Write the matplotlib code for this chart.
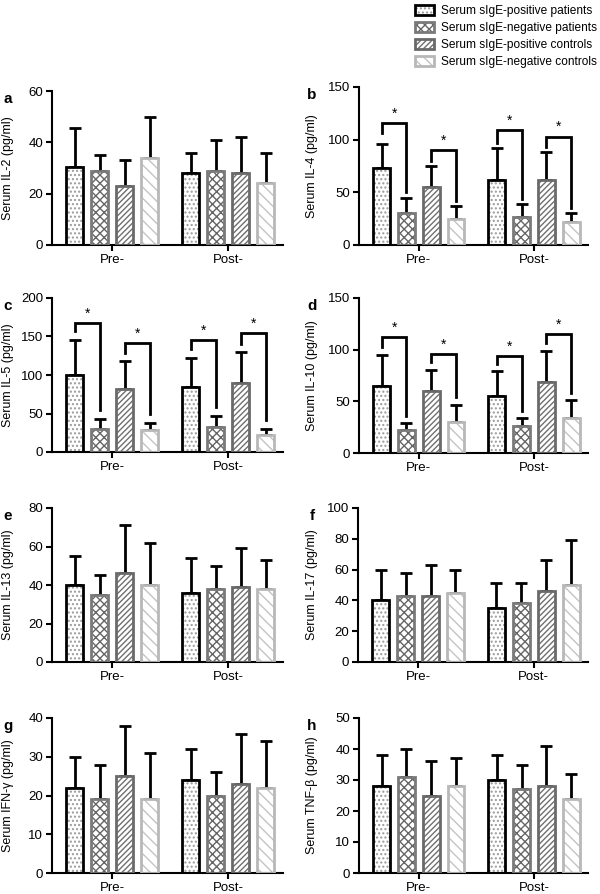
import numpy as np
import matplotlib
matplotlib.use("Agg")
import matplotlib.pyplot as plt
from matplotlib.patches import Patch

plt.rcParams["font.family"] = ["Liberation Sans", "DejaVu Sans"]
plt.rcParams["hatch.linewidth"] = 1.0

GROUPS = ["Pre-", "Post-"]
SERIES = [
    "Serum sIgE-positive patients",
    "Serum sIgE-negative patients",
    "Serum sIgE-positive controls",
    "Serum sIgE-negative controls",
]

# means / upper error tops, [pre..., post...] per series order
IL2_MEAN = [[30.5, 29, 23, 34], [28, 29, 28, 24]]
IL2_TOP = [[45.5, 35, 33, 50], [36, 41, 42, 36]]
IL4_MEAN = [[73, 30, 55, 25], [62, 27, 62, 22]]
IL4_TOP = [[96, 45, 75, 37], [92, 39, 88, 30]]
IL5_MEAN = [[100, 30, 82, 28], [85, 32, 90, 22]]
IL5_TOP = [[145, 43, 118, 38], [122, 47, 130, 30]]
IL10_MEAN = [[65, 22, 60, 30], [55, 26, 69, 34]]
IL10_TOP = [[95, 29, 80, 46], [79, 34, 99, 51]]
IL13_MEAN = [[40, 35, 46, 40], [36, 38, 39, 38]]
IL13_TOP = [[55, 45, 71, 62], [54, 50, 59, 53]]
IL17_MEAN = [[40, 43, 43, 45], [35, 38, 46, 50]]
IL17_TOP = [[60, 58, 63, 60], [51, 51, 66, 79]]
IFNG_MEAN = [[22, 19, 25, 19], [24, 20, 23, 22]]
IFNG_TOP = [[30, 28, 38, 31], [32, 26, 36, 34]]
TNFB_MEAN = [[28, 31, 25, 28], [30, 27, 28, 24]]
TNFB_TOP = [[38, 40, 36, 37], [38, 35, 41, 32]]

# significance brackets: (group, left bar, right bar, bracket height, left leg end, right leg end)
IL4_SIG = [(0, 0, 1, 116, 106, 50), (0, 2, 3, 90, 80, 42), (1, 0, 1, 109, 97, 44), (1, 2, 3, 103, 93, 35)]
IL5_SIG = [(0, 0, 1, 168, 157, 55), (0, 2, 3, 141, 128, 50), (1, 0, 1, 145, 134, 58), (1, 2, 3, 154, 140, 41)]
IL10_SIG = [(0, 0, 1, 112, 103, 36), (0, 2, 3, 96, 88, 54), (1, 0, 1, 94, 86, 41), (1, 2, 3, 115, 106, 58)]

PANELS = [
    ("a", "Serum IL-2 (pg/ml)", IL2_MEAN, IL2_TOP, 60, 20, []),
    ("b", "Serum IL-4 (pg/ml)", IL4_MEAN, IL4_TOP, 150, 50, IL4_SIG),
    ("c", "Serum IL-5 (pg/ml)", IL5_MEAN, IL5_TOP, 200, 50, IL5_SIG),
    ("d", "Serum IL-10 (pg/ml)", IL10_MEAN, IL10_TOP, 150, 50, IL10_SIG),
    ("e", "Serum IL-13 (pg/ml)", IL13_MEAN, IL13_TOP, 80, 20, []),
    ("f", "Serum IL-17 (pg/ml)", IL17_MEAN, IL17_TOP, 100, 20, []),
    ("g", "Serum IFN-\u03b3 (pg/ml)", IFNG_MEAN, IFNG_TOP, 40, 10, []),
    ("h", "Serum TNF-\u03b2 (pg/ml)", TNFB_MEAN, TNFB_TOP, 50, 10, []),
]

# pixel boxes (left, top, right, bottom)
BOXES = [
    (52, 91, 283, 245), (359, 87, 588, 245),
    (52, 298, 283, 452), (359, 298, 588, 453),
    (52, 508, 283, 662), (358, 508, 588, 662),
    (52, 718, 283, 873), (359, 718, 588, 873),
]

EDGE = ["black", "#7a7a7a", "#6a6a6a", "#b8b8b8"]
HATCH_COL = ["#9a9a9a", "#666666", "#707070", "#c4c4c4"]
HATCH = ["....", "xxxx", "//////", "\\\\\\"]

W, H = 600, 894
fig = plt.figure(figsize=(6, 8.94), dpi=100)

step = 0.2155
bw = 0.147
offsets = np.array([-1.5, -0.5, 0.5, 1.5]) * step

for (letter, ylabel, means, tops, ymax, ystep, sig), (l, t, r, b) in zip(PANELS, BOXES):
    ax = fig.add_axes([l / W, 1 - b / H, (r - l) / W, (b - t) / H])
    for g in range(2):
        for s in range(4):
            x = g + offsets[s]
            m = means[g][s]
            err = tops[g][s] - m
            ax.errorbar([x], [m], yerr=[[0], [err]], fmt="none", ecolor="black",
                        elinewidth=2, capsize=4, capthick=2, zorder=1)
            ax.bar(x, m, bw, color="white", edgecolor=HATCH_COL[s], hatch=HATCH[s],
                   linewidth=0, zorder=2)
            ax.bar(x, m, bw, fill=False, edgecolor=EDGE[s], linewidth=2, zorder=3)
    for g, i, j, hgt, lend, rend in sig:
        xl = g + offsets[i]
        xr = g + offsets[j]
        ax.plot([xl, xl, xr, xr], [lend, hgt, hgt, rend], color="black", lw=2,
                solid_joinstyle="miter", zorder=4, clip_on=False)
        ax.text((xl + xr) / 2, hgt + ymax * 0.015, "*", ha="center", va="bottom",
                fontsize=10)
    ax.set_xlim(-0.52, 1.47)
    ax.set_ylim(0, ymax)
    ax.set_yticks(np.arange(0, ymax + 1, ystep))
    ax.set_xticks([0, 1])
    ax.set_xticklabels(GROUPS)
    for sp in ["top", "right"]:
        ax.spines[sp].set_visible(False)
    for sp in ["left", "bottom"]:
        ax.spines[sp].set_linewidth(1.5)
    ax.tick_params(axis="both", labelsize=9.5, width=1.5, length=4, pad=2.5)
    ax.set_ylabel(ylabel, fontsize=9)
    # label coords give the right edge of the rotated label
    lx = 14 if l < 300 else 318
    ax.yaxis.set_label_coords((lx - l) / (r - l), 0.5)
    px = 8 if l < 300 else 312
    fig.text(px / W, 1 - (t + 8) / H, letter, fontsize=11, fontweight="bold",
             ha="center", va="center")

handles = []
for s in range(4):
    p1 = Patch(facecolor="white", edgecolor=HATCH_COL[s], hatch=HATCH[s], linewidth=0)
    p2 = Patch(fill=False, edgecolor=EDGE[s], linewidth=2)
    handles.append((p1, p2))
fig.legend(handles, SERIES, loc="upper right", bbox_to_anchor=(1.011, 1.005),
           frameon=False, fontsize=8.6, handlelength=1.6, handleheight=0.8,
           labelspacing=0.42, handletextpad=0.6, borderpad=0.3)

fig.savefig("out.png", dpi=100)
